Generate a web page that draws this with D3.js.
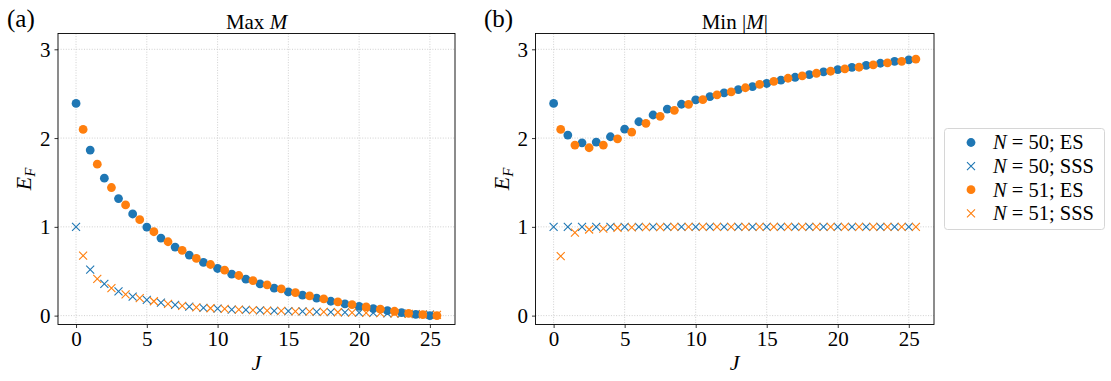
<!DOCTYPE html>
<html>
<head>
<style>
  body {
    margin: 0;
    background-color: #fff;
  }

  svg text {
    font-family: "Liberation Serif", "DejaVu Serif", serif;
    fill: #000;
  }
</style>
  <script src="https://d3js.org/d3.v7.min.js"></script>
</head>
<body>
<script>
// E_F against J, two panels (max M / min |M|), N = 50 and N = 51

const jEven = [0, 1, 2, 3, 4, 5, 6, 7, 8, 9, 10, 11, 12, 13, 14, 15, 16, 17, 18, 19, 20, 21, 22, 23, 24, 25];
const jOdd = [0.5, 1.5, 2.5, 3.5, 4.5, 5.5, 6.5, 7.5, 8.5, 9.5, 10.5, 11.5, 12.5, 13.5, 14.5, 15.5, 16.5, 17.5, 18.5, 19.5, 20.5, 21.5, 22.5, 23.5, 24.5, 25.5];

// panel (a) Max M
const esMax50 = [2.39, 1.865, 1.548, 1.318, 1.145, 0.998, 0.874, 0.772, 0.682, 0.599, 0.531, 0.467, 0.411, 0.358, 0.309, 0.267, 0.23, 0.196, 0.162, 0.132, 0.105, 0.079, 0.056, 0.034, 0.015, 0.0];
const sssMax50 = [1.0, 0.517, 0.358, 0.272, 0.215, 0.177, 0.147, 0.121, 0.102, 0.087, 0.079, 0.068, 0.064, 0.058, 0.054, 0.05, 0.047, 0.043, 0.04, 0.037, 0.033, 0.03, 0.026, 0.022, 0.017, 0.011];
const esMax51 = [2.098, 1.706, 1.443, 1.247, 1.081, 0.945, 0.832, 0.734, 0.644, 0.576, 0.512, 0.452, 0.395, 0.347, 0.301, 0.26, 0.222, 0.188, 0.154, 0.124, 0.098, 0.072, 0.049, 0.026, 0.011, 0.0];
const sssMax51 = [0.675, 0.415, 0.31, 0.24, 0.196, 0.162, 0.132, 0.109, 0.094, 0.083, 0.075, 0.068, 0.062, 0.057, 0.053, 0.049, 0.045, 0.042, 0.038, 0.035, 0.032, 0.028, 0.024, 0.02, 0.015, 0.009];

// panel (b) Min |M|
const esMin50 = [2.39, 2.034, 1.947, 1.955, 2.015, 2.1, 2.184, 2.26, 2.327, 2.381, 2.43, 2.468, 2.51, 2.546, 2.58, 2.615, 2.652, 2.685, 2.715, 2.745, 2.771, 2.797, 2.818, 2.843, 2.865, 2.88];
const sssMin50 = [1, 1, 1, 1, 1, 1, 1, 1, 1, 1, 1, 1, 1, 1, 1, 1, 1, 1, 1, 1, 1, 1, 1, 1, 1, 1];
const esMin51 = [2.098, 1.921, 1.891, 1.921, 1.992, 2.068, 2.166, 2.245, 2.313, 2.38, 2.433, 2.486, 2.52, 2.567, 2.605, 2.638, 2.674, 2.7, 2.73, 2.753, 2.779, 2.798, 2.824, 2.846, 2.865, 2.89];
const sssMin51 = [0.67, 0.935, 0.97, 0.98, 0.99, 0.995, 0.997, 0.998, 0.999, 1, 1, 1, 1, 1, 1, 1, 1, 1, 1, 1, 1, 1, 1, 1, 1, 1];

const xTicks = [0, 5, 10, 15, 20, 25];
const yTicks = [0, 1, 2, 3];
const legendLabels = ['50; ES', '50; SSS', '51; ES', '51; SSS'];

const blue = '#1f77b4';
const orange = '#ff7f0e';

const svg = d3.select('body')
  .append('svg')
  .attr('width', 1111)
  .attr('height', 381);

const plotTop = 33.5;
const plotBottom = 324.5;

const panels = [
  { tag: '(a)', tagX: 7, left: 58, right: 455, title: ['Max ', 'M', ''], es50: esMax50, sss50: sssMax50, es51: esMax51, sss51: sssMax51 },
  { tag: '(b)', tagX: 484, left: 535.5, right: 934, title: ['Min |', 'M', '|'], es50: esMin50, sss50: sssMin50, es51: esMin51, sss51: sssMin51 },
];

const crossPath = (s) => `M${-s},${-s}L${s},${s}M${-s},${s}L${s},${-s}`;

panels.forEach(p => {
  const x = d3.scaleLinear().domain([-1.275, 26.775]).range([p.left, p.right]);
  const y = d3.scaleLinear().domain([-0.1, 3.178]).range([plotBottom, plotTop]);
  const g = svg.append('g');

  // grid
  g.selectAll('.gx').data(xTicks).join('line')
    .attr('x1', d => x(d)).attr('x2', d => x(d))
    .attr('y1', plotTop).attr('y2', plotBottom)
    .attr('stroke', '#c4c4c4').attr('stroke-width', 0.8)
    .attr('stroke-dasharray', '1,1.6');
  g.selectAll('.gy').data(yTicks).join('line')
    .attr('x1', p.left).attr('x2', p.right)
    .attr('y1', d => y(d)).attr('y2', d => y(d))
    .attr('stroke', '#c4c4c4').attr('stroke-width', 0.8)
    .attr('stroke-dasharray', '1,1.6');

  // axes
  const xAxis = d3.axisBottom(x).tickValues(xTicks).tickSize(3.5).tickPadding(4).tickFormat(d3.format('d'));
  const yAxis = d3.axisLeft(y).tickValues(yTicks).tickSize(3.5).tickPadding(4).tickFormat(d3.format('d'));
  const gx = g.append('g').attr('transform', `translate(0,${plotBottom})`).call(xAxis);
  const gy = g.append('g').attr('transform', `translate(${p.left},0)`).call(yAxis);
  [gx, gy].forEach(a => {
    a.select('.domain').remove();
    a.selectAll('.tick line').attr('stroke', '#000').attr('stroke-width', 0.8);
    a.selectAll('.tick text').style('font-size', '21px').attr('fill', '#000');
  });
  gy.selectAll('.tick text').attr('dy', '0.34em');
  gx.selectAll('.tick text').attr('dy', '0.68em');

  // series, in plotting order
  const series = [
    { xs: jEven, ys: p.es50, color: blue, kind: 'dot' },
    { xs: jEven, ys: p.sss50, color: blue, kind: 'x' },
    { xs: jOdd, ys: p.es51, color: orange, kind: 'dot' },
    { xs: jOdd, ys: p.sss51, color: orange, kind: 'x' },
  ];
  series.forEach(s => {
    const pts = s.xs.map((v, i) => [v, s.ys[i]]);
    if (s.kind === 'dot') {
      g.append('g').selectAll('circle').data(pts).join('circle')
        .attr('cx', d => x(d[0])).attr('cy', d => y(d[1]))
        .attr('r', 4.4).attr('fill', s.color);
    } else {
      g.append('g').selectAll('path').data(pts).join('path')
        .attr('transform', d => `translate(${x(d[0])},${y(d[1])})`)
        .attr('d', crossPath(4))
        .attr('stroke', s.color).attr('stroke-width', 1.1).attr('fill', 'none');
    }
  });

  // frame
  g.append('rect')
    .attr('x', p.left).attr('y', plotTop)
    .attr('width', p.right - p.left).attr('height', plotBottom - plotTop)
    .attr('fill', 'none').attr('stroke', '#000').attr('stroke-width', 0.9);

  // labels
  const cx = (p.left + p.right) / 2;
  const t = g.append('text').attr('x', cx).attr('y', 28.5)
    .attr('text-anchor', 'middle').style('font-size', '21px');
  t.append('tspan').text(p.title[0]);
  t.append('tspan').style('font-style', 'italic').text(p.title[1]);
  t.append('tspan').text(p.title[2]);

  g.append('text').attr('x', cx).attr('y', 370)
    .attr('text-anchor', 'middle').style('font-size', '22px')
    .style('font-style', 'italic').text('J');

  const yl = g.append('text')
    .attr('transform', `translate(${p.left - 27},${(plotTop + plotBottom) / 2}) rotate(-90)`)
    .attr('text-anchor', 'middle').style('font-size', '22px').style('font-style', 'italic');
  yl.append('tspan').text('E');
  yl.append('tspan').attr('dy', 4).style('font-size', '15px').text('F');

  g.append('text').attr('x', p.tagX).attr('y', 27)
    .style('font-size', '25px').text(p.tag);
});

// legend
const legend = svg.append('g');
legend.append('rect')
  .attr('x', 944.5).attr('y', 128.5)
  .attr('width', 160).attr('height', 101)
  .attr('rx', 3)
  .attr('fill', '#fff').attr('fill-opacity', 0.8)
  .attr('stroke', '#d6d6d6').attr('stroke-width', 1);

const legendKinds = ['dot', 'x', 'dot', 'x'];
const legendColors = [blue, blue, orange, orange];
legendLabels.forEach((lab, i) => {
  const ly = 142.5 + i * 23.6;
  if (legendKinds[i] === 'dot') {
    legend.append('circle').attr('cx', 971).attr('cy', ly).attr('r', 4.4).attr('fill', legendColors[i]);
  } else {
    legend.append('path').attr('transform', `translate(971,${ly})`)
      .attr('d', crossPath(4)).attr('stroke', legendColors[i])
      .attr('stroke-width', 1.1).attr('fill', 'none');
  }
  const txt = legend.append('text').attr('x', 993).attr('y', ly + 6.8).style('font-size', '20.5px');
  txt.append('tspan').style('font-style', 'italic').text('N');
  txt.append('tspan').text(' = ' + lab);
});
</script>
</body>
</html>
